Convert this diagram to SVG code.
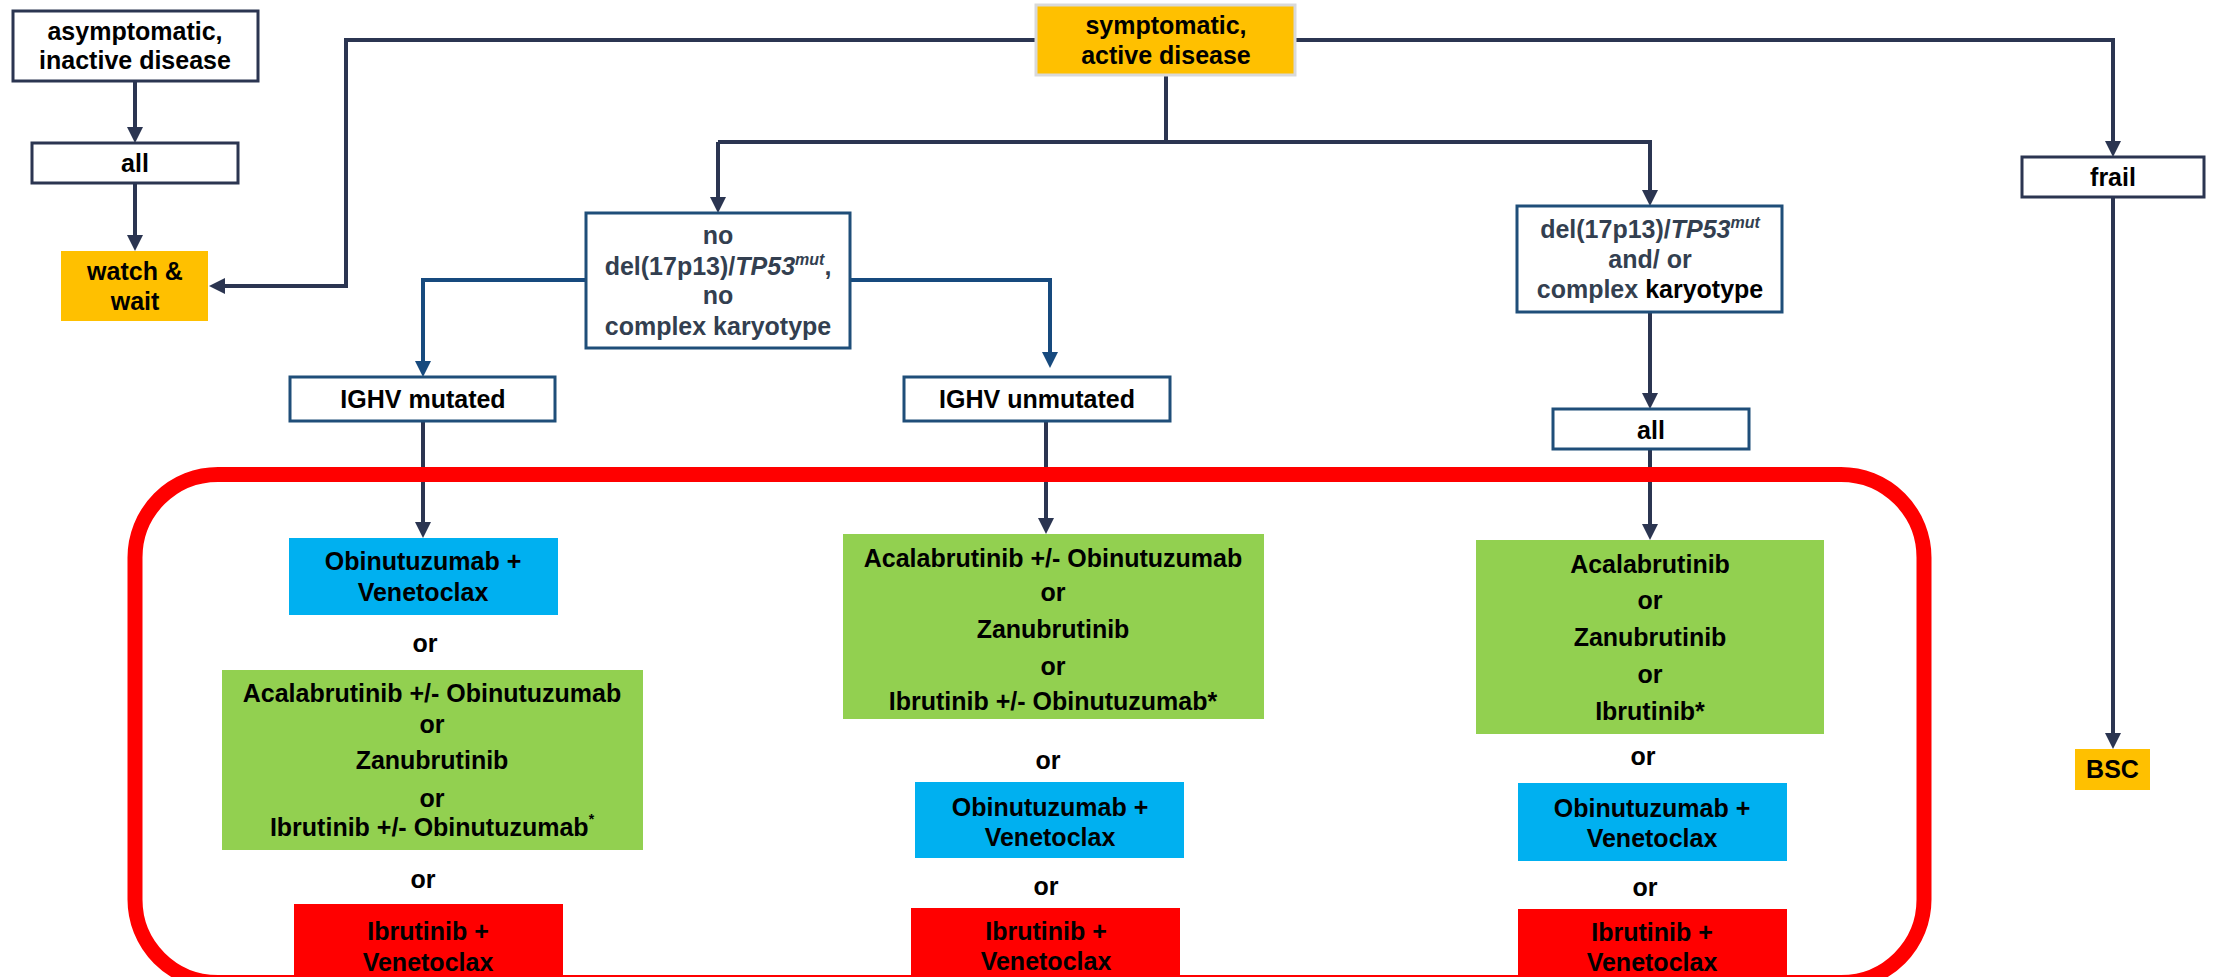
<svg xmlns="http://www.w3.org/2000/svg" width="2213" height="977" viewBox="0 0 2213 977">
  <style>
    .t{font-family:"Liberation Sans",Arial,sans-serif;font-weight:bold;font-size:25px;text-anchor:middle;fill:#000}
    .slate{fill:#333F50}
    .box{fill:#fff;stroke:#2B3551;stroke-width:3}
    .bbox{fill:#fff;stroke:#1F4E79;stroke-width:3}
    .amber{fill:#FFC000}
    .green{fill:#92D050}
    .cyan{fill:#00B0F0}
    .red{fill:#FF0000}
    .conn{fill:none;stroke:#2B3551;stroke-width:4;marker-end:url(#arrNavy)}
    .bconn{fill:none;stroke:#174A7E;stroke-width:4;marker-end:url(#arrBlue)}
    .plain{fill:none;stroke:#2B3551;stroke-width:4}
    .it{font-style:italic}
  </style>
  <defs>
    <marker id="arrNavy" markerUnits="userSpaceOnUse" markerWidth="16" markerHeight="16" viewBox="0 0 16 16" refX="11" refY="8" orient="auto">
      <path d="M0,0 L16,8 L0,16 z" fill="#2B3551"/>
    </marker>
    <marker id="arrBlue" markerUnits="userSpaceOnUse" markerWidth="16" markerHeight="16" viewBox="0 0 16 16" refX="11" refY="8" orient="auto">
      <path d="M0,0 L16,8 L0,16 z" fill="#174A7E"/>
    </marker>
  </defs>
  <rect width="2213" height="977" fill="#fff"/>

  <!-- connectors -->
  <g id="connectors">
    <path class="conn" d="M135,81 V138"/>
    <path class="conn" d="M135,183 V246"/>
    <path class="conn" d="M1036,40 H346 V286 H214"/>
    <path class="conn" d="M1295,40 H2113 V152"/>
    <path class="conn" d="M2113,197 V744"/>
    <path class="plain" d="M1166,75 V142"/>
    <path class="conn" d="M718,142 H1650 V201"/>
    <path class="conn" d="M718,142 V208"/>
    <path class="bconn" d="M586,280 H423 V372"/>
    <path class="bconn" d="M850,280 H1050 V363"/>
    <path class="conn" d="M1650,312 V404"/>
    <path class="conn" d="M1650,449 V535"/>
    <path class="conn" d="M423,421 V533"/>
    <path class="conn" d="M1046,421 V529"/>
  </g>

  <!-- red frame around the treatment options -->
  <rect id="treatment-frame" x="135" y="474.5" width="1789" height="508" rx="83" fill="none" stroke="#FF0000" stroke-width="15"/>

  <g id="asymptomatic">
    <rect class="box" x="13" y="11" width="245" height="70"/>
    <text class="t" x="135" y="40">asymptomatic,</text>
    <text class="t" x="135" y="69">inactive disease</text>
  </g>
  <g id="all-left">
    <rect class="box" x="32" y="143" width="206" height="40"/>
    <text class="t" x="135" y="172">all</text>
  </g>
  <g id="watch-wait">
    <rect class="amber" x="61" y="251" width="147" height="70"/>
    <text class="t" x="135" y="280">watch &amp;</text>
    <text class="t" x="135" y="310">wait</text>
  </g>
  <g id="symptomatic">
    <rect class="amber" x="1036" y="5" width="259" height="70" stroke="#D9D9D9" stroke-width="3"/>
    <text class="t" x="1166" y="34">symptomatic,</text>
    <text class="t" x="1166" y="64">active disease</text>
  </g>
  <g id="frail">
    <rect class="box" x="2022" y="157" width="182" height="40"/>
    <text class="t" x="2113" y="186">frail</text>
  </g>
  <g id="bsc">
    <rect class="amber" x="2075" y="749" width="75" height="41"/>
    <text class="t" x="2112.5" y="778">BSC</text>
  </g>
  <g id="no-del17p">
    <rect class="bbox" x="586" y="213" width="264" height="135"/>
    <text class="t slate" x="718" y="244">no</text>
    <text class="t slate" x="718" y="275">del(17p13)/<tspan class="it">TP53</tspan><tspan class="it" font-size="16" dy="-10">mut</tspan><tspan dy="10">,</tspan></text>
    <text class="t slate" x="718" y="304">no</text>
    <text class="t slate" x="718" y="335">complex karyotype</text>
  </g>
  <g id="del17p">
    <rect class="bbox" x="1517" y="206" width="265" height="106"/>
    <text class="t slate" x="1650" y="238">del(17p13)/<tspan class="it">TP53</tspan><tspan class="it" font-size="16" dy="-10">mut</tspan></text>
    <text class="t slate" x="1650" y="268">and/ or</text>
    <text class="t" x="1650" y="298"><tspan class="slate">complex</tspan> karyotype</text>
  </g>
  <g id="ighv-mutated">
    <rect class="bbox" x="290" y="377" width="265" height="44"/>
    <text class="t" x="423" y="408">IGHV mutated</text>
  </g>
  <g id="ighv-unmutated">
    <rect class="bbox" x="904" y="377" width="266" height="44"/>
    <text class="t" x="1037" y="408">IGHV unmutated</text>
  </g>
  <g id="all-right">
    <rect class="bbox" x="1553" y="409" width="196" height="40"/>
    <text class="t" x="1651" y="439">all</text>
  </g>

  <!-- IGHV mutated column -->
  <g id="m-ven-obi">
    <rect class="cyan" x="289" y="538" width="269" height="77"/>
    <text class="t" x="423" y="570">Obinutuzumab +</text>
    <text class="t" x="423" y="601">Venetoclax</text>
  </g>
  <text class="t" x="425" y="652">or</text>
  <g id="m-btki">
    <rect class="green" x="222" y="670" width="421" height="180"/>
    <text class="t" x="432" y="702">Acalabrutinib +/- Obinutuzumab</text>
    <text class="t" x="432" y="733">or</text>
    <text class="t" x="432" y="769">Zanubrutinib</text>
    <text class="t" x="432" y="807">or</text>
    <text class="t" x="432" y="836">Ibrutinib +/- Obinutuzumab<tspan font-size="14" dy="-12">*</tspan></text>
  </g>
  <text class="t" x="423" y="888">or</text>
  <g id="m-ibr-ven">
    <rect class="red" x="294" y="904" width="269" height="90"/>
    <text class="t" x="428" y="940">Ibrutinib +</text>
    <text class="t" x="428" y="971">Venetoclax</text>
  </g>

  <!-- IGHV unmutated column -->
  <g id="u-btki">
    <rect class="green" x="843" y="534" width="421" height="185"/>
    <text class="t" x="1053" y="567">Acalabrutinib +/- Obinutuzumab</text>
    <text class="t" x="1053" y="601">or</text>
    <text class="t" x="1053" y="638">Zanubrutinib</text>
    <text class="t" x="1053" y="675">or</text>
    <text class="t" x="1053" y="710">Ibrutinib +/- Obinutuzumab*</text>
  </g>
  <text class="t" x="1048" y="769">or</text>
  <g id="u-ven-obi">
    <rect class="cyan" x="915" y="782" width="269" height="76"/>
    <text class="t" x="1050" y="816">Obinutuzumab +</text>
    <text class="t" x="1050" y="846">Venetoclax</text>
  </g>
  <text class="t" x="1046" y="895">or</text>
  <g id="u-ibr-ven">
    <rect class="red" x="911" y="908" width="269" height="90"/>
    <text class="t" x="1046" y="940">Ibrutinib +</text>
    <text class="t" x="1046" y="970">Venetoclax</text>
  </g>

  <!-- del(17p)/TP53 column -->
  <g id="d-btki">
    <rect class="green" x="1476" y="540" width="348" height="194"/>
    <text class="t" x="1650" y="573">Acalabrutinib</text>
    <text class="t" x="1650" y="609">or</text>
    <text class="t" x="1650" y="646">Zanubrutinib</text>
    <text class="t" x="1650" y="683">or</text>
    <text class="t" x="1650" y="720">Ibrutinib*</text>
  </g>
  <text class="t" x="1643" y="765">or</text>
  <g id="d-ven-obi">
    <rect class="cyan" x="1518" y="783" width="269" height="78"/>
    <text class="t" x="1652" y="817">Obinutuzumab +</text>
    <text class="t" x="1652" y="847">Venetoclax</text>
  </g>
  <text class="t" x="1645" y="896">or</text>
  <g id="d-ibr-ven">
    <rect class="red" x="1518" y="909" width="269" height="90"/>
    <text class="t" x="1652" y="941">Ibrutinib +</text>
    <text class="t" x="1652" y="971">Venetoclax</text>
  </g>
</svg>
